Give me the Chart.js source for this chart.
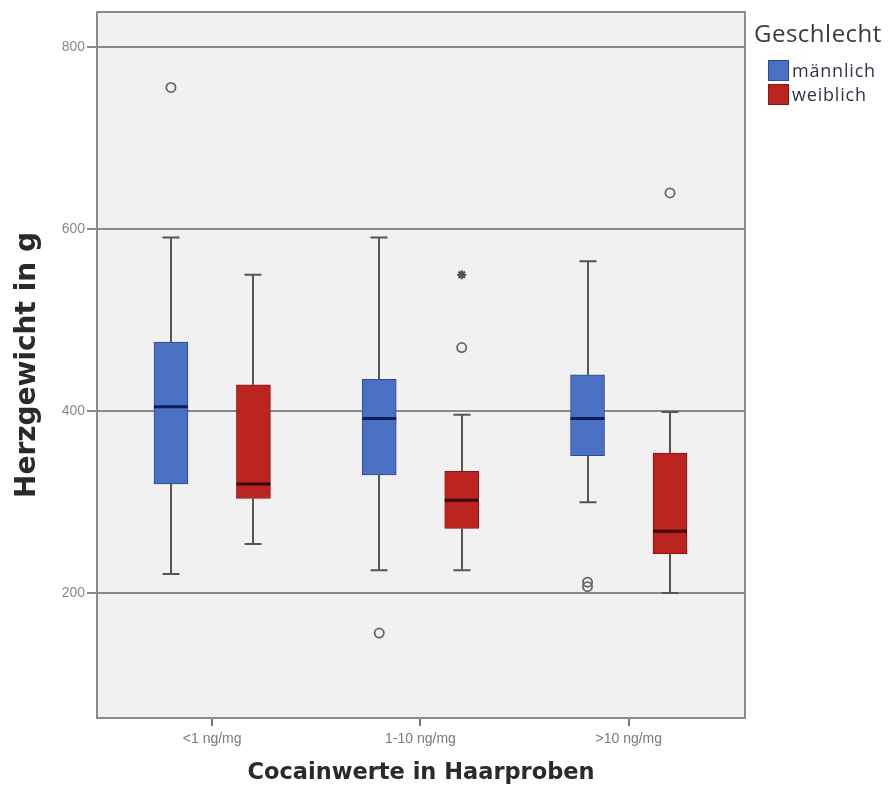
<!DOCTYPE html>
<html>
<head>
<meta charset="utf-8">
<script src="https://cdn.jsdelivr.net/npm/chart.js@4.4.1/dist/chart.umd.min.js"></script>
<style>
html,body{margin:0;padding:0;background:#fff;}
#wrap{position:relative;width:894px;height:787px;}
#legend{position:absolute;left:754px;top:18px;font-family:"Open Sans",sans-serif;color:#3a3a3a;}
#legend .ttl{font-size:24px;line-height:30px;letter-spacing:0.5px;margin-bottom:10px;}
#legend .item{display:flex;align-items:center;height:24px;margin-left:14px;font-size:18px;letter-spacing:0.8px;color:#2f3548;}
#legend .sw{width:21px;height:21px;margin-right:3px;box-sizing:border-box;}
</style>
</head>
<body>
<div id="wrap">
<canvas id="c" width="894" height="787"></canvas>
<div id="legend"></div>
</div>
<script>
// ---- data ----
const categories = ['<1 ng/mg', '1-10 ng/mg', '>10 ng/mg'];
const seriesNames = ['männlich', 'weiblich'];
const legendTitle = 'Geschlecht';
const xTitle = 'Cocainwerte in Haarproben';
const yTitle = 'Herzgewicht in g';

const maleWhiskerLow  = [221, 225, 300];
const maleQ1          = [320, 330, 351];
const maleMedian      = [405, 392, 392];
const maleQ3          = [476, 435, 440];
const maleWhiskerHigh = [591, 591, 565];
const maleOutliers    = [[756], [156], [207, 212]];
const maleExtremes    = [[], [], []];

const femaleWhiskerLow  = [254, 225, 200];
const femaleQ1          = [304, 271, 243];
const femaleMedian      = [320, 302, 268];
const femaleQ3          = [429, 334, 354];
const femaleWhiskerHigh = [550, 396, 399];
const femaleOutliers    = [[], [470], [640]];
const femaleExtremes    = [[], [550], []];

const yTicks = [200, 400, 600, 800];
const yMin = 62.6, yMax = 839;

// ---- layout constants ----
const X_MIN = -0.553, X_MAX = 2.558, DODGE = 0.198;

const groups = [
  {name: seriesNames[0], fill: '#4a70c4', border: '#2e4a8e', median: '#0d1c5c',
   lo: maleWhiskerLow, q1: maleQ1, med: maleMedian, q3: maleQ3, hi: maleWhiskerHigh,
   out: maleOutliers, ext: maleExtremes, shift: -DODGE},
  {name: seriesNames[1], fill: '#bb231f', border: '#8a1614', median: '#3c0606',
   lo: femaleWhiskerLow, q1: femaleQ1, med: femaleMedian, q3: femaleQ3, hi: femaleWhiskerHigh,
   out: femaleOutliers, ext: femaleExtremes, shift: DODGE}
];

const datasets = groups.map(g => ({
  type: 'bar',
  label: g.name,
  data: categories.map((c, i) => ({x: i + g.shift, y: [g.q1[i], g.q3[i]]})),
  backgroundColor: g.fill,
  borderColor: g.border,
  borderWidth: 1,
  borderSkipped: false,
  barThickness: 34,
  grouped: false,
  order: 2
}));
groups.forEach(g => {
  datasets.push({
    type: 'scatter', label: g.name + ' outliers', isOutlier: true,
    data: g.out.flatMap((vals, i) => vals.map(v => ({x: i + g.shift, y: v}))),
    pointStyle: 'circle', pointRadius: 4.6, pointBorderWidth: 1.8,
    pointBorderColor: '#666', pointBackgroundColor: 'rgba(0,0,0,0)', order: 1
  });
  datasets.push({
    type: 'scatter', label: g.name + ' extremes', isOutlier: true,
    data: g.ext.flatMap((vals, i) => vals.map(v => ({x: i + g.shift, y: v}))),
    pointStyle: 'star', pointRadius: 4.5, pointBorderWidth: 2.2,
    pointBorderColor: '#555', pointBackgroundColor: '#555', order: 1
  });
});

const boxParts = {
  id: 'boxParts',
  beforeDraw(chart) {
    const {ctx, chartArea: a} = chart;
    ctx.save();
    ctx.fillStyle = '#f1f1f1';
    ctx.fillRect(a.left, a.top, a.width, a.height);
    ctx.restore();
  },
  beforeDatasetsDraw(chart) {
    const {ctx} = chart; const y = chart.scales.y;
    ctx.save();
    ctx.strokeStyle = '#555'; ctx.lineWidth = 2;
    groups.forEach((g, gi) => {
      const meta = chart.getDatasetMeta(gi);
      meta.data.forEach((el, i) => {
        const x = Math.round(el.x);
        const yLo = y.getPixelForValue(g.lo[i]), yQ1 = y.getPixelForValue(g.q1[i]);
        const yQ3 = y.getPixelForValue(g.q3[i]), yHi = y.getPixelForValue(g.hi[i]);
        const cap = 8.5;
        ctx.beginPath();
        ctx.moveTo(x, yLo); ctx.lineTo(x, yQ1);
        ctx.moveTo(x, yQ3); ctx.lineTo(x, yHi);
        ctx.moveTo(x - cap, yLo); ctx.lineTo(x + cap, yLo);
        ctx.moveTo(x - cap, yHi); ctx.lineTo(x + cap, yHi);
        ctx.stroke();
      });
    });
    ctx.restore();
  },
  afterDatasetsDraw(chart) {
    const {ctx} = chart; const y = chart.scales.y;
    ctx.save();
    groups.forEach((g, gi) => {
      const meta = chart.getDatasetMeta(gi);
      ctx.strokeStyle = g.median; ctx.lineWidth = 3;
      meta.data.forEach((el, i) => {
        const ym = y.getPixelForValue(g.med[i]);
        ctx.beginPath();
        ctx.moveTo(el.x - el.width / 2, ym); ctx.lineTo(el.x + el.width / 2, ym);
        ctx.stroke();
      });
    });
    ctx.restore();
  },
  afterDraw(chart) {
    const {ctx, chartArea: a} = chart;
    ctx.save();
    ctx.strokeStyle = '#8a8a8a'; ctx.lineWidth = 2;
    ctx.strokeRect(a.left, a.top, a.width, a.height);
    ctx.restore();
  }
};

const chart = new Chart(document.getElementById('c'), {
  type: 'bar',
  data: {datasets},
  options: {
    responsive: false,
    animation: false,
    layout: {padding: {top: 12, right: 149, left: 0, bottom: 0}},
    plugins: {legend: {display: false}, tooltip: {enabled: false}},
    scales: {
      x: {
        type: 'linear', min: X_MIN, max: X_MAX, offset: false,
        afterBuildTicks: s => { s.ticks = categories.map((c, i) => ({value: i})); },
        afterFit: s => { s.height = 69; },
        ticks: {callback: v => categories[v], color: '#7a7a7a', padding: 5,
                font: {family: 'Liberation Sans', size: 14}, maxRotation: 0, autoSkip: false},
        grid: {offset: false, drawOnChartArea: false, drawTicks: true, tickLength: 8, color: '#777', lineWidth: 2},
        border: {display: false},
        title: {display: true, text: xTitle, color: '#2a2a2a', padding: {top: 4, bottom: 0},
                font: {family: 'DejaVu Sans', size: 22.5, weight: 'bold'}}
      },
      y: {
        type: 'linear', min: yMin, max: yMax,
        afterBuildTicks: s => { s.ticks = yTicks.map(v => ({value: v})); },
        afterFit: s => { s.width = 97; },
        ticks: {color: '#8a8a8a', padding: 2, font: {family: 'Liberation Sans', size: 14}},
        grid: {color: '#8a8a8a', lineWidth: 2, drawTicks: true, tickLength: 10},
        border: {display: false},
        title: {display: true, text: yTitle, color: '#2a2a2a', padding: {top: 11, bottom: 4},
                font: {family: 'DejaVu Sans', size: 28, weight: 'bold'}}
      }
    }
  },
  plugins: [boxParts]
});

// HTML legend built from the chart's box datasets
const leg = document.getElementById('legend');
const t = document.createElement('div'); t.className = 'ttl'; t.textContent = legendTitle; leg.appendChild(t);
chart.data.datasets.filter(d => d.type === 'bar').forEach(d => {
  const it = document.createElement('div'); it.className = 'item';
  const sw = document.createElement('span'); sw.className = 'sw';
  sw.style.background = d.backgroundColor; sw.style.border = '1px solid ' + d.borderColor;
  const tx = document.createElement('span'); tx.textContent = d.label;
  it.appendChild(sw); it.appendChild(tx); leg.appendChild(it);
});
</script>
</body>
</html>
